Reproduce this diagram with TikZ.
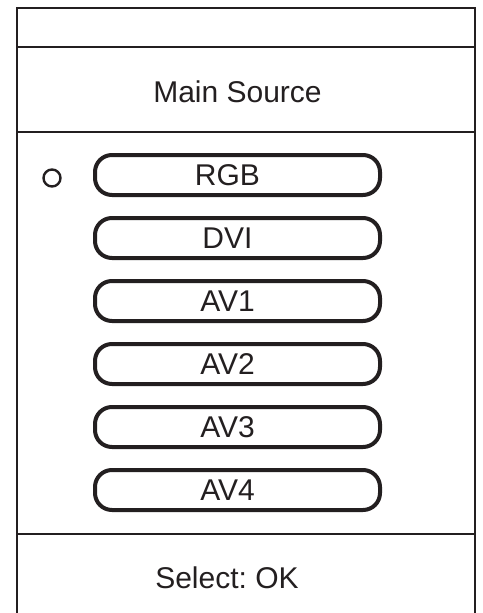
\documentclass[tikz,border=0pt]{standalone}
\usepackage{fontspec}
\setmainfont{Liberation Sans}
\usepackage{tikz}

\definecolor{ink}{HTML}{231F20}

\tikzset{
  srcbutton/.style={draw=ink, line width=4pt, rounded corners=17pt,
    minimum width=285pt, minimum height=40pt, inner sep=0pt},
  menutext/.style={text=ink, font=\fontsize{30}{34}\selectfont}
}

\begin{document}
\frenchspacing
\begin{tikzpicture}[x=1pt,y=-1pt]
\useasboundingbox (0,0) rectangle (482,613);
% frame
\draw[ink, line width=2pt] (17,613) -- (17,8) -- (475,8) -- (475,613);
\draw[ink, line width=2pt] (17,47) -- (475,47);
\draw[ink, line width=2pt] (17,132) -- (475,132);
\draw[ink, line width=2pt] (17,534) -- (475,534);

\node[menutext] (title) at (237.5,92) {Main Source};
\node[menutext] (select) at (227,578) {Select: OK};

% source buttons
\foreach \name [count=\i from 0] in {RGB,DVI,AV1,AV2,AV3,AV4}{
\node[srcbutton, label={[menutext,xshift=-10pt]center:\name}] (btn\name) at (237.5,175+63*\i) {};
}

\draw[ink, line width=2.4pt] (52,178) circle (8.5pt);
\end{tikzpicture}
\end{document}
